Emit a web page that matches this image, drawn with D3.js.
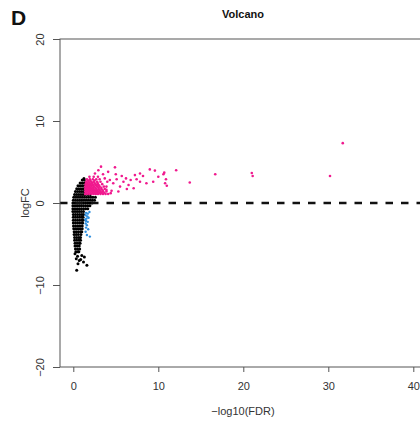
<!DOCTYPE html>
<html>
<head>
<meta charset="utf-8">
<script src="https://cdn.jsdelivr.net/npm/d3@7"></script>
<style>
  body { margin: 0; background: #fff; }
  text { font-family: "Liberation Sans", Arial, sans-serif; }
</style>
</head>
<body>
<div id="chart"></div>
<script>
// Axis ticks
var xTicks = [0, 10, 20, 30, 40];
var yTicks = [-20, -10, 0, 10, 20];

// Non-significant genes (black), written row by row: [logFC, [-log10(FDR) ...]]
var blackRows = [
  [3.0, [1.25]],
  [2.8, [1.05, 1.3]],
  [2.45, [0.8, 1.05, 1.3]],
  [2.1, [0.55, 0.8, 1.05, 1.3]],
  [1.75, [0.4, 0.65, 0.9, 1.15, 1.35]],
  [1.4, [0.25, 0.5, 0.75, 1.0, 1.25]],
  [1.05, [0.15, 0.4, 0.65, 0.9, 1.15, 1.4, 1.7, 2.0]],
  [0.7, [0.05, 0.3, 0.55, 0.8, 1.05, 1.3, 1.55, 1.8, 2.05, 2.3, 2.6]],
  [0.35, [0, 0.25, 0.5, 0.75, 1.0, 1.25, 1.5, 1.75, 2.0, 2.25, 2.5]],
  [0, [-0.05, 0.2, 0.45, 0.7, 0.95, 1.2, 1.45, 1.7, 1.95, 2.2]],
  [-0.35, [-0.05, 0.2, 0.45, 0.7, 0.95, 1.2, 1.45, 1.7, 1.95]],
  [-0.7, [-0.05, 0.2, 0.45, 0.7, 0.95, 1.2, 1.45, 1.7]],
  [-1.05, [-0.05, 0.2, 0.45, 0.7, 0.95, 1.2]],
  [-1.4, [0, 0.25, 0.5, 0.75, 1.0, 1.2]],
  [-1.75, [0, 0.25, 0.5, 0.75, 1.0, 1.15]],
  [-2.1, [0, 0.25, 0.5, 0.75, 1.0, 1.15]],
  [-2.45, [0, 0.25, 0.5, 0.75, 1.0, 1.1]],
  [-2.8, [0.02, 0.27, 0.52, 0.77, 1.05]],
  [-3.15, [0.05, 0.3, 0.55, 0.8, 1.05]],
  [-3.5, [0.1, 0.35, 0.6, 0.85, 1.0]],
  [-3.85, [0.1, 0.35, 0.6, 0.9]],
  [-4.2, [0.15, 0.4, 0.65, 0.85]],
  [-4.55, [0.15, 0.4, 0.65, 0.85]],
  [-4.9, [0.2, 0.45, 0.7, 0.8]],
  [-5.25, [0.2, 0.45, 0.7]],
  [-5.6, [0.25, 0.5, 0.75]],
  [-5.95, [0.3, 0.55, 0.65]]
];
var blackScatter = [
  [0.2, -6.2], [0.5, -6.5], [0.87, -6.9], [1.2, -7.2], [0.7, -7.0], [1.6, -7.6],
  [0.4, -8.2], [0.55, -7.4], [0.35, -6.8], [1.0, -6.4], [1.3, -6.6]
];

// Up-regulated genes (pink)
var pinkRows = [
  [1.1, [1.4, 1.65, 1.9, 2.15, 2.4, 2.65, 2.9, 3.2, 3.5, 3.8, 4.1]],
  [1.25, [1.52, 1.78, 2.02, 2.28, 2.52, 2.78, 3.05, 3.35, 3.65]],
  [1.4, [1.4, 1.65, 1.9, 2.15, 2.4, 2.65, 2.9, 3.2, 3.5, 3.9]],
  [1.55, [1.52, 1.78, 2.02, 2.28, 2.52, 2.8, 3.1, 3.45]],
  [1.7, [1.4, 1.65, 1.9, 2.15, 2.4, 2.7, 3.0, 3.3, 3.7]],
  [1.85, [1.52, 1.78, 2.02, 2.3, 2.6, 2.95, 3.3]],
  [2.0, [1.4, 1.65, 1.9, 2.15, 2.45, 2.8, 3.1, 3.6]],
  [2.15, [1.55, 1.8, 2.05, 2.35, 2.7, 3.0]],
  [2.3, [1.45, 1.7, 1.95, 2.25, 2.6, 2.9, 3.4]],
  [2.45, [1.6, 1.9, 2.2, 2.5, 2.85]],
  [2.6, [1.5, 1.8, 2.1, 2.4, 2.8, 3.2]],
  [2.75, [1.7, 2.0, 2.5]],
  [2.9, [1.6, 1.95, 2.3, 2.7, 3.1]],
  [3.2, [1.9, 2.4, 2.9]]
];
var pinkScatter = [
  [3.26, 4.43], [4.9, 4.35], [4.1, 3.8], [2.55, 3.6], [3.5, 3.5], [5.0, 3.5],
  [5.7, 3.3], [6.2, 3.0], [6.75, 2.8], [7.45, 2.9], [7.85, 2.6], [8.2, 3.3],
  [9.0, 4.1], [9.6, 3.95], [10.7, 3.7], [10.9, 2.9], [10.8, 2.4], [12.1, 4.0],
  [13.7, 2.5], [8.6, 2.4], [6.5, 2.2], [5.5, 2.0], [4.7, 2.4], [5.1, 2.9],
  [4.3, 2.8], [3.9, 2.0], [7.25, 3.4], [7.85, 3.6], [10.0, 3.2], [9.4, 2.6],
  [5.9, 2.6], [2.95, 4.0], [4.5, 1.5], [5.3, 1.4], [6.3, 1.7], [7.1, 1.8],
  [3.2, 1.3], [10.6, 3.5], [11.0, 2.1], [16.7, 3.5], [21.0, 3.65], [21.1, 3.3],
  [30.2, 3.3], [31.7, 7.3], [4.4, 1.2], [4.0, 2.6], [3.7, 3.0], [3.9, 1.6]
];

// Down-regulated genes (blue)
var blueScatter = [
  [1.5, -1.2], [1.7, -1.3], [1.45, -1.5], [1.65, -1.65], [1.55, -1.9], [1.8, -1.8],
  [1.5, -2.2], [1.7, -2.3], [1.45, -2.5], [1.6, -2.7], [1.5, -3.0], [1.75, -3.2],
  [1.45, -3.5], [1.6, -3.9], [1.95, -4.1], [1.4, -2.0], [1.9, -1.1]
];

function unrow(rows) {
  var out = [];
  rows.forEach(r => r[1].forEach(x => out.push([x, r[0]])));
  return out;
}

var blackPts = unrow(blackRows).concat(blackScatter);
var pinkPts = unrow(pinkRows).concat(pinkScatter);

var W = 420, H = 423;
var svg = d3.select("#chart").append("svg")
  .attr("width", W).attr("height", H);

var x = d3.scaleLinear().domain([0, 40]).range([73.3, 413.3]);
var y = d3.scaleLinear().domain([-20, 20]).range([367, 39]);
var boxLeft = 60, boxRight = 428;

// clip to plot region
svg.append("clipPath").attr("id", "plotclip")
  .append("rect").attr("x", boxLeft).attr("y", y(20))
  .attr("width", boxRight - boxLeft).attr("height", y(-20) - y(20));

var plot = svg.append("g").attr("clip-path", "url(#plotclip)");

plot.selectAll("circle.black").data(blackPts).enter().append("circle")
  .attr("class", "black")
  .attr("cx", d => x(d[0])).attr("cy", d => y(d[1]))
  .attr("r", 1.5).attr("fill", "#000");

plot.selectAll("circle.blue").data(blueScatter).enter().append("circle")
  .attr("class", "blue")
  .attr("cx", d => x(d[0])).attr("cy", d => y(d[1]))
  .attr("r", 1.2).attr("fill", "#2f8fdd");

plot.selectAll("circle.pink").data(pinkPts).enter().append("circle")
  .attr("class", "pink")
  .attr("cx", d => x(d[0])).attr("cy", d => y(d[1]))
  .attr("r", 1.3).attr("fill", "#f0198e");

// dashed line at logFC = 0
plot.append("line")
  .attr("x1", boxLeft).attr("x2", boxRight)
  .attr("y1", y(0)).attr("y2", y(0))
  .attr("stroke", "#111").attr("stroke-width", 2.6)
  .attr("stroke-dasharray", "7.5,8");

// box
svg.append("rect")
  .attr("x", boxLeft).attr("y", y(20))
  .attr("width", boxRight - boxLeft).attr("height", y(-20) - y(20))
  .attr("fill", "none").attr("stroke", "#555").attr("stroke-width", 1);

// axes
var xAxis = svg.append("g")
  .attr("transform", "translate(0," + y(-20) + ")")
  .call(d3.axisBottom(x).tickValues(xTicks).tickSize(5).tickPadding(10));
var yAxis = svg.append("g")
  .attr("transform", "translate(" + boxLeft + ",0)")
  .call(d3.axisLeft(y).tickValues(yTicks).tickSize(7).tickFormat(d3.format("d")));

[xAxis, yAxis].forEach(a => {
  a.select(".domain").remove();
  a.selectAll(".tick line").attr("stroke", "#555");
  a.selectAll("text").attr("fill", "#333").style("font-size", "11px")
    .style("font-family", "Liberation Sans, Arial, sans-serif");
});

yAxis.selectAll(".tick text")
  .attr("x", null).attr("dy", null)
  .attr("text-anchor", "middle")
  .attr("transform", "translate(-16,0) rotate(-90)");

// titles
svg.append("text").attr("x", 243).attr("y", 18)
  .attr("text-anchor", "middle").style("font-size", "11px").style("font-weight", "bold")
  .attr("fill", "#111").text("Volcano");

svg.append("text").attr("x", 11).attr("y", 25)
  .style("font-size", "21px").style("font-weight", "bold")
  .attr("fill", "#111").text("D");

svg.append("text").attr("x", 243).attr("y", 415)
  .attr("text-anchor", "middle").style("font-size", "11px")
  .attr("fill", "#333").text("\u2212log10(FDR)");

svg.append("text")
  .attr("transform", "translate(29,203) rotate(-90)")
  .attr("text-anchor", "middle").style("font-size", "11px")
  .attr("fill", "#333").text("logFC");
</script>
</body>
</html>
